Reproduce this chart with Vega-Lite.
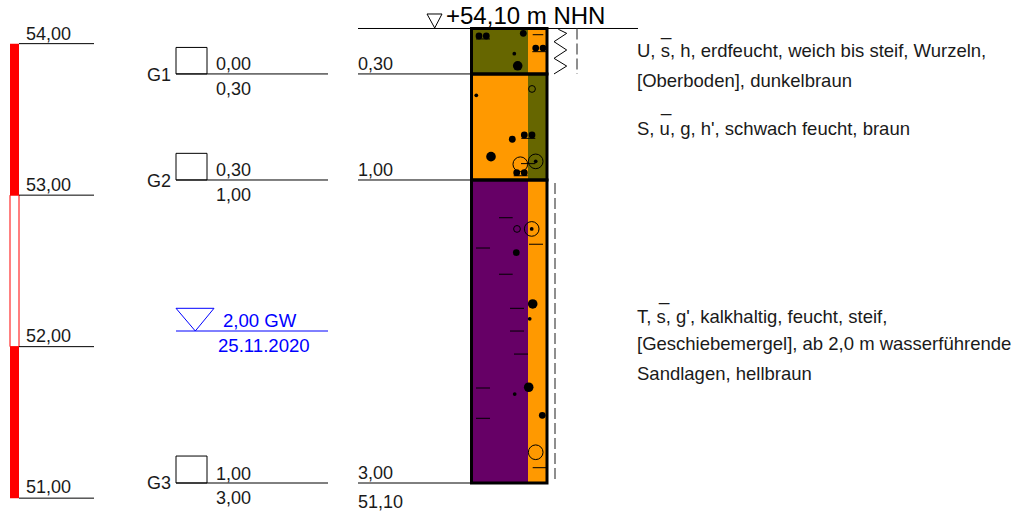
{
"$schema":"https://vega.github.io/schema/vega-lite/v6.json",
"width":1016,"height":513,"padding":0,
"autosize":{"type":"fit","contains":"padding"},
"background":"white",
"config":{"view":{"stroke":null}},
"datasets":{
"schichten":[
{"x":471.5,"x2":528,"depth":0,"depth2":0.3,"art":"Oberboden"},
{"x":528,"x2":547,"depth":0,"depth2":0.3,"art":"Sand"},
{"x":471.5,"x2":528,"depth":0.3,"depth2":1,"art":"Sand"},
{"x":528,"x2":547,"depth":0.3,"depth2":1,"art":"Oberboden"},
{"x":471.5,"x2":528,"depth":1,"depth2":3,"art":"Ton"},
{"x":528,"x2":547,"depth":1,"depth2":3,"art":"Sand"},
{"x":10,"x2":19,"depth":0.1,"depth2":1.1,"art":"Rot"},
{"x":10,"x2":19,"depth":2.1,"depth2":3.1,"art":"Rot"}
],
"rahmen":[
{"x":471.5,"x2":547,"depth":0,"depth2":0.3},
{"x":471.5,"x2":547,"depth":0.3,"depth2":1},
{"x":471.5,"x2":547,"depth":1,"depth2":3}
],
"linien":[
{"x":358,"x2":638,"depth":0,"art":"schwarz"},
{"x":358,"x2":471,"depth":0.3,"art":"schwarz"},
{"x":358,"x2":471,"depth":1,"art":"schwarz"},
{"x":358,"x2":471,"depth":3,"art":"schwarz"},
{"x":176,"x2":328,"depth":0.3,"art":"schwarz"},
{"x":176,"x2":328,"depth":1,"art":"schwarz"},
{"x":176,"x2":328,"depth":3,"art":"schwarz"},
{"x":176,"x2":328,"depth":1.9967,"art":"blau"},
{"x":19,"x2":94,"depth":0.1,"art":"schwarz"},
{"x":19,"x2":94,"depth":1.1,"art":"schwarz"},
{"x":19,"x2":94,"depth":2.1,"art":"schwarz"},
{"x":19,"x2":94,"depth":3.1,"art":"schwarz"},
{"x":476,"x2":490,"depth":0.069,"art":"schwarz"},
{"x":532.3,"x2":546.3,"depth":0.153,"art":"schwarz"},
{"x":532.7,"x2":543.3,"depth":0.041,"art":"schwarz"},
{"x":521.3,"x2":535.3,"depth":0.725,"art":"schwarz"},
{"x":521,"x2":535.3,"depth":0.892,"art":"schwarz"},
{"x":513.7,"x2":527.7,"depth":0.972,"art":"schwarz"},
{"x":499,"x2":512.7,"depth":1.249,"art":"schwarz"},
{"x":529,"x2":543,"depth":1.424,"art":"schwarz"},
{"x":476,"x2":490,"depth":1.449,"art":"schwarz"},
{"x":499,"x2":512.7,"depth":1.622,"art":"schwarz"},
{"x":510,"x2":524,"depth":1.847,"art":"schwarz"},
{"x":510,"x2":524,"depth":1.997,"art":"schwarz"},
{"x":514,"x2":528,"depth":2.149,"art":"schwarz"},
{"x":476,"x2":490,"depth":2.373,"art":"schwarz"},
{"x":476,"x2":490,"depth":2.573,"art":"schwarz"},
{"x":532.7,"x2":546.7,"depth":2.899,"art":"schwarz"}
],
"korn":[
{"x":479,"depth":0.0495,"klasse":"mittel"},
{"x":486.3,"depth":0.0495,"klasse":"mittel"},
{"x":523.3,"depth":0.032,"klasse":"mittel"},
{"x":514.3,"depth":0.166,"klasse":"fein"},
{"x":517.7,"depth":0.246,"klasse":"grob"},
{"x":535.7,"depth":0.129,"klasse":"mittel"},
{"x":543,"depth":0.129,"klasse":"mittel"},
{"x":476.3,"depth":0.441,"klasse":"fein"},
{"x":512.3,"depth":0.731,"klasse":"mittel"},
{"x":524.3,"depth":0.703,"klasse":"mittel"},
{"x":532,"depth":0.703,"klasse":"mittel"},
{"x":491,"depth":0.846,"klasse":"grob"},
{"x":516.7,"depth":0.952,"klasse":"mittel"},
{"x":524.3,"depth":0.952,"klasse":"mittel"},
{"x":535.7,"depth":0.877,"klasse":"fein"},
{"x":531.7,"depth":1.323,"klasse":"fein"},
{"x":516.3,"depth":1.48,"klasse":"mittel"},
{"x":532.7,"depth":1.818,"klasse":"grob"},
{"x":529.7,"depth":1.916,"klasse":"fein"},
{"x":528.7,"depth":2.368,"klasse":"grob"},
{"x":514.7,"depth":2.413,"klasse":"fein"},
{"x":542.3,"depth":2.553,"klasse":"mittel"}
],
"kreise":[
{"x":532,"depth":0.399,"klasse":"klein"},
{"x":520.3,"depth":0.896,"klasse":"gross"},
{"x":535.7,"depth":0.877,"klasse":"gross"},
{"x":517,"depth":1.323,"klasse":"klein"},
{"x":531.7,"depth":1.323,"klasse":"gross"},
{"x":535.7,"depth":2.797,"klasse":"gross"}
],
"proben":[
{"x":176,"x2":207,"depth":0.125,"depth2":0.3},
{"x":176,"x2":207,"depth":0.824,"depth2":1},
{"x":176,"x2":207,"depth":2.822,"depth2":3}
],
"pfade":[
{"x":176,"depth":1.8469,"n":1,"pfad":"GW","art":"blau"},
{"x":214,"depth":1.8469,"n":2,"pfad":"GW","art":"blau"},
{"x":195.3,"depth":1.9967,"n":3,"pfad":"GW","art":"blau"},
{"x":176,"depth":1.8469,"n":4,"pfad":"GW","art":"blau"},
{"x":427,"depth":-0.0957,"n":1,"pfad":"NHN","art":"schwarz"},
{"x":442,"depth":-0.0957,"n":2,"pfad":"NHN","art":"schwarz"},
{"x":434.7,"depth":-0.0033,"n":3,"pfad":"NHN","art":"schwarz"},
{"x":427,"depth":-0.0957,"n":4,"pfad":"NHN","art":"schwarz"},
{"x":558.3,"depth":0.005,"n":1,"pfad":"Zickzack","art":"schwarz"},
{"x":566.7,"depth":0.032,"n":2,"pfad":"Zickzack","art":"schwarz"},
{"x":554,"depth":0.087,"n":3,"pfad":"Zickzack","art":"schwarz"},
{"x":566.7,"depth":0.142,"n":4,"pfad":"Zickzack","art":"schwarz"},
{"x":554,"depth":0.197,"n":5,"pfad":"Zickzack","art":"schwarz"},
{"x":566.7,"depth":0.248,"n":6,"pfad":"Zickzack","art":"schwarz"},
{"x":554,"depth":0.3,"n":7,"pfad":"Zickzack","art":"schwarz"}
],
"texte":[
{"x":26,"depth":0.0759,"t":"54,00"},
{"x":26,"depth":1.0726,"t":"53,00"},
{"x":26,"depth":2.0693,"t":"52,00"},
{"x":26,"depth":3.066,"t":"51,00"},
{"x":147,"depth":0.3465,"t":"G1"},
{"x":147,"depth":1.0462,"t":"G2"},
{"x":147,"depth":3.0396,"t":"G3"},
{"x":216,"depth":0.2739,"t":"0,00"},
{"x":216,"depth":0.4389,"t":"0,30"},
{"x":216,"depth":0.9736,"t":"0,30"},
{"x":216,"depth":1.1386,"t":"1,00"},
{"x":216,"depth":2.9802,"t":"1,00"},
{"x":216,"depth":3.1386,"t":"3,00"},
{"x":358,"depth":0.2739,"t":"0,30"},
{"x":358,"depth":0.9736,"t":"1,00"},
{"x":358,"depth":2.9736,"t":"3,00"},
{"x":358,"depth":3.165,"t":"51,10"}
],
"beschreibung":[
{"x":637,"depth":0.1861,"t":"U, s, h, erdfeucht, weich bis steif, Wurzeln,"},
{"x":637,"depth":0.3861,"t":"[Oberboden], dunkelbraun"},
{"x":637,"depth":0.703,"t":"S, u, g, h', schwach feucht, braun"},
{"x":637,"depth":1.9439,"t":"T, s, g', kalkhaltig, feucht, steif,"},
{"x":637,"depth":2.1221,"t":"[Geschiebemergel], ab 2,0 m wasserführende"},
{"x":637,"depth":2.32,"t":"Sandlagen, hellbraun"},
{"x":661,"depth":0.0429,"t":"_"},
{"x":661,"depth":0.5446,"t":"_"},
{"x":659,"depth":1.7921,"t":"_"}
],
"blautexte":[
{"x":223,"depth":1.9703,"t":"2,00 GW"},
{"x":218,"depth":2.1353,"t":"25.11.2020"}
],
"kopf":[{"x":446,"depth":-0.0297,"t":"+54,10 m NHN"}]
},
"encoding":{
"x":{"field":"x","type":"quantitative","scale":{"domain":[0,1016],"nice":false,"zero":false},"axis":null},
"y":{"field":"depth","type":"quantitative","scale":{"domain":[-0.1881,3.198],"nice":false,"zero":false,"reverse":true},"axis":null}
},
"layer":[
{"data":{"values":[{"x":10,"x2":19,"depth":1.1,"depth2":2.1}]},
 "mark":{"type":"rect","fill":"white","stroke":"#ff0000","strokeWidth":1},
 "encoding":{"x2":{"field":"x2"},"y2":{"field":"depth2"}}},
{"data":{"name":"schichten"},
 "mark":{"type":"rect"},
 "encoding":{"x2":{"field":"x2"},"y2":{"field":"depth2"},
  "color":{"field":"art","type":"nominal","legend":null,"scale":{"domain":["Oberboden","Sand","Ton","Rot","schwarz","blau"],"range":["#666600","#ff9900","#660066","#ff0000","#000000","#0000ff"]}}}},
{"data":{"name":"linien"},
 "mark":{"type":"rule","strokeWidth":1},
 "encoding":{"x2":{"field":"x2"},
  "color":{"field":"art","type":"nominal","legend":null,"scale":{"domain":["Oberboden","Sand","Ton","Rot","schwarz","blau"],"range":["#666600","#ff9900","#660066","#ff0000","#000000","#0000ff"]}}}},
{"data":{"values":[{"x":577,"depth":0,"depth2":0.3,"lage":"oben"},{"x":555,"depth":1.02,"depth2":3,"lage":"unten"}]},
 "mark":{"type":"rule","strokeWidth":1.2,"strokeDash":[11,4],"color":"#444444"},
 "encoding":{"y2":{"field":"depth2"},"detail":{"field":"lage"}}},
{"data":{"name":"pfade"},
 "mark":{"type":"line","strokeWidth":1},
 "encoding":{"order":{"field":"n","type":"quantitative"},"detail":{"field":"pfad"},
  "color":{"field":"art","type":"nominal","legend":null,"scale":{"domain":["Oberboden","Sand","Ton","Rot","schwarz","blau"],"range":["#666600","#ff9900","#660066","#ff0000","#000000","#0000ff"]}}}},
{"data":{"name":"korn"},
 "mark":{"type":"point","shape":"circle","filled":true,"color":"#000000","opacity":1},
 "encoding":{"size":{"field":"klasse","type":"nominal","legend":null,"scale":{"type":"ordinal","domain":["fein","mittel","grob","klein","gross"],"range":[14,46,92,46,215]}}}},
{"data":{"name":"kreise"},
 "mark":{"type":"point","shape":"circle","filled":false,"color":"#000000","strokeWidth":1,"opacity":1},
 "encoding":{"size":{"field":"klasse","type":"nominal","legend":null,"scale":{"type":"ordinal","domain":["fein","mittel","grob","klein","gross"],"range":[14,46,92,46,215]}}}},
{"data":{"name":"rahmen"},
 "mark":{"type":"rect","fill":"transparent","stroke":"#000000","strokeWidth":3},
 "encoding":{"x2":{"field":"x2"},"y2":{"field":"depth2"}}},
{"data":{"name":"proben"},
 "mark":{"type":"rect","fill":"transparent","stroke":"#000000","strokeWidth":1},
 "encoding":{"x2":{"field":"x2"},"y2":{"field":"depth2"}}},
{"data":{"name":"texte"},
 "mark":{"type":"text","align":"left","baseline":"alphabetic","font":"Liberation Sans","fontSize":18,"color":"#1a1a1a"},
 "encoding":{"text":{"field":"t"}}},
{"data":{"name":"beschreibung"},
 "mark":{"type":"text","align":"left","baseline":"alphabetic","font":"Liberation Sans","fontSize":18.5,"color":"#1a1a1a"},
 "encoding":{"text":{"field":"t"}}},
{"data":{"name":"blautexte"},
 "mark":{"type":"text","align":"left","baseline":"alphabetic","font":"Liberation Sans","fontSize":18.6,"color":"#0000ff"},
 "encoding":{"text":{"field":"t"}}},
{"data":{"name":"kopf"},
 "mark":{"type":"text","align":"left","baseline":"alphabetic","font":"Liberation Sans","fontSize":24,"color":"#000000"},
 "encoding":{"text":{"field":"t"}}}
]
}
